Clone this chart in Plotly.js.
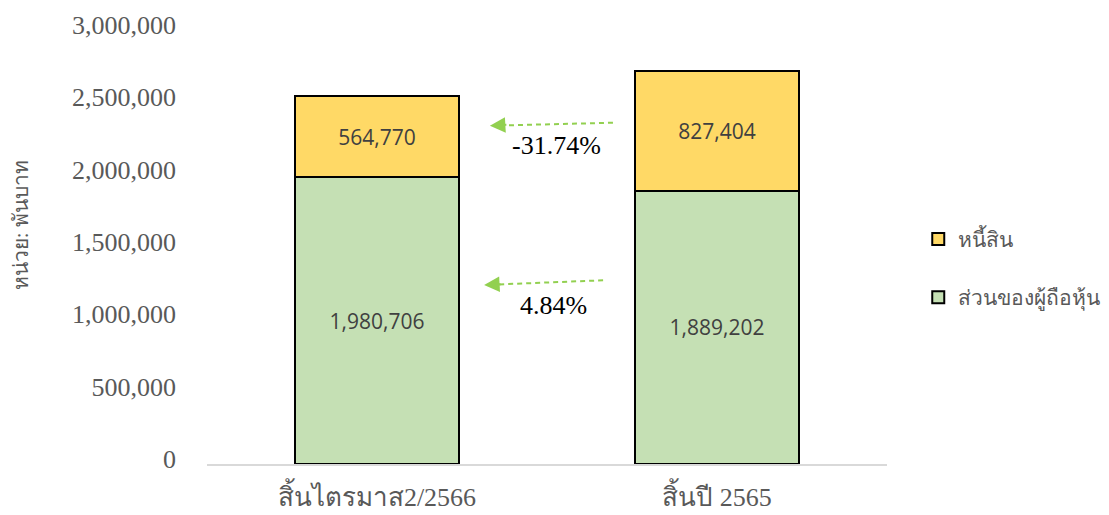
<!DOCTYPE html>
<html>
<head>
<meta charset="utf-8">
<script src="https://cdn.plot.ly/plotly-3.0.1.min.js"></script>
<style>
  html, body { margin: 0; padding: 0; background: #fff; }
  #chart { width: 1109px; height: 515px; }
</style>
</head>
<body>
<div id="chart"></div>
<script>
var periods = ['สิ้นไตรมาส2/2566', 'สิ้นปี 2565'];
var equity = [1980706, 1889202];
var liabilities = [564770, 827404];
var seriesNames = ['ส่วนของผู้ถือหุ้น', 'หนี้สิน'];
var yTicks = [0, 500000, 1000000, 1500000, 2000000, 2500000, 3000000];

function fmt(v) { return v.toLocaleString('en-US'); }
function pctChange(a, b) { return ((a - b) / b * 100).toFixed(2) + '%'; }

var serif = 'Liberation Serif, DejaVu Serif, serif';
var grey = '#595959';
var arrowGreen = '#92d050';

var traceEquity = {
  x: periods,
  y: equity,
  type: 'bar',
  name: seriesNames[0],
  legendgroup: 'a',
  legendrank: 2,
  marker: { color: '#c5e0b4', line: { color: '#000', width: 2 } },
  text: equity.map(fmt),
  textposition: 'inside',
  insidetextanchor: 'middle',
  textfont: { family: 'Open Sans, sans-serif', size: 21, color: '#404040' },
  hoverinfo: 'none'
};
var traceLiab = {
  x: periods,
  y: liabilities,
  type: 'bar',
  name: seriesNames[1],
  legendgroup: 'b',
  legendrank: 1,
  marker: { color: '#ffd966', line: { color: '#000', width: 2 } },
  text: liabilities.map(fmt),
  textposition: 'inside',
  insidetextanchor: 'middle',
  textfont: { family: 'Open Sans, sans-serif', size: 21, color: '#404040' },
  hoverinfo: 'none'
};

// arrow placement (category index, value)
var arrows = [
  { tip: [0.332, 2338000], tail: [0.694, 2359000], label: [0.529, 2205000],
    text: pctChange(liabilities[0], liabilities[1]) },
  { tip: [0.315, 1237000], tail: [0.665, 1270000], label: [0.518, 1099000],
    text: pctChange(equity[0], equity[1]) }
];

var shapes = [];
var annotations = [];
arrows.forEach(function (a) {
  shapes.push({
    type: 'line', xref: 'x', yref: 'y',
    x0: a.tail[0], y0: a.tail[1],
    x1: a.tip[0] + 0.04, y1: a.tip[1] + (a.tail[1] - a.tip[1]) * 0.12,
    line: { color: arrowGreen, width: 2, dash: '5px,4px' }
  });
  annotations.push({
    xref: 'x', yref: 'y', x: a.tip[0], y: a.tip[1],
    ax: 18, ay: -1, text: '', showarrow: true,
    arrowhead: 2, arrowsize: 1.55, arrowwidth: 2, arrowcolor: arrowGreen
  });
  annotations.push({
    xref: 'x', yref: 'y', x: a.label[0], y: a.label[1],
    text: a.text, showarrow: false,
    font: { family: serif, size: 26, color: '#000' }
  });
});

annotations.push({
  xref: 'paper', yref: 'paper', x: -0.295, y: 0.551,
  text: 'หน่วย: พันบาท', textangle: -90, showarrow: false,
  font: { family: serif, size: 21, color: grey }
});

var layout = {
  width: 1109,
  height: 515,
  margin: { l: 207, r: 222, t: 30, b: 51 },
  paper_bgcolor: '#fff',
  plot_bgcolor: '#fff',
  barmode: 'stack',
  bargap: 0.515,
  showlegend: true,
  legend: {
    xref: 'container', yref: 'container',
    x: 0.828, y: 0.479, xanchor: 'left', yanchor: 'middle',
    traceorder: 'grouped',
    tracegroupgap: 28,
    font: { family: 'Noto Sans, DejaVu Sans, sans-serif', size: 21, color: grey }
  },
  xaxis: {
    showline: true, linecolor: '#d9d9d9', linewidth: 2,
    showgrid: false, zeroline: false, ticks: '',
    tickfont: { family: serif, size: 26, color: grey },
    ticklabelstandoff: 9
  },
  yaxis: {
    range: [0, 3000000],
    tickvals: yTicks,
    ticktext: yTicks.map(fmt),
    showline: false, showgrid: false, zeroline: false, ticks: '',
    tickfont: { family: serif, size: 26, color: grey },
    ticklabelstandoff: 30,
    ticklabelshift: -5
  },
  shapes: shapes,
  annotations: annotations
};

Plotly.newPlot('chart', [traceEquity, traceLiab], layout, { staticPlot: true });
</script>
</body>
</html>
